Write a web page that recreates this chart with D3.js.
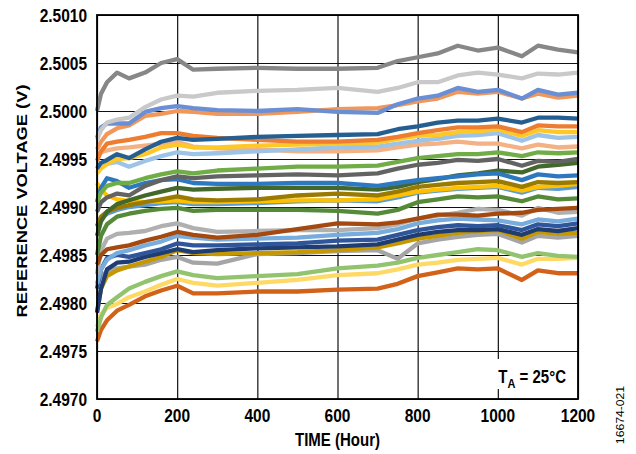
<!DOCTYPE html>
<html>
<head>
<meta charset="utf-8">
<script src="https://cdn.jsdelivr.net/npm/d3@7/dist/d3.min.js"></script>
<style>
  body { margin: 0; background: #fff; }
  text { font-family: "Liberation Sans", Arial, sans-serif; }
</style>
</head>
<body>
<svg id="chart" width="636" height="454"></svg>
<script>
// sample times (hours) shared by every device trace
var hours = [0, 10, 25, 50, 80, 120, 160, 200, 240, 300, 400, 500, 600, 700, 750, 800, 850, 900, 950, 1000, 1060, 1100, 1150, 1200];

// reference voltage per device (V)
var grayTop    = [2.50000, 2.50018, 2.50030, 2.50040, 2.50034, 2.50040, 2.50050, 2.50054, 2.50043, 2.50044, 2.50045, 2.50044, 2.50044, 2.50045, 2.50052, 2.50056, 2.50060, 2.50068, 2.50063, 2.50066, 2.50057, 2.50068, 2.50064, 2.50061];
var lightGray  = [2.49970, 2.49980, 2.49988, 2.49991, 2.49993, 2.50004, 2.50012, 2.50016, 2.50015, 2.50019, 2.50021, 2.50022, 2.50024, 2.50020, 2.50024, 2.50030, 2.50030, 2.50037, 2.50040, 2.50038, 2.50034, 2.50039, 2.50038, 2.50040];
var lightOrange= [2.49960, 2.49968, 2.49976, 2.49982, 2.49985, 2.49995, 2.49997, 2.50000, 2.49999, 2.49997, 2.49997, 2.49999, 2.50002, 2.50003, 2.50006, 2.50010, 2.50013, 2.50020, 2.50018, 2.50020, 2.50013, 2.50018, 2.50014, 2.50016];
var cornflower = [2.49972, 2.49983, 2.49987, 2.49987, 2.49987, 2.49999, 2.50003, 2.50005, 2.50003, 2.50001, 2.50000, 2.50002, 2.49999, 2.49998, 2.50007, 2.50013, 2.50016, 2.50024, 2.50020, 2.50022, 2.50013, 2.50022, 2.50017, 2.50019];
var orange     = [2.49948, 2.49958, 2.49966, 2.49968, 2.49970, 2.49973, 2.49977, 2.49977, 2.49974, 2.49972, 2.49970, 2.49968, 2.49968, 2.49970, 2.49973, 2.49977, 2.49980, 2.49983, 2.49983, 2.49984, 2.49978, 2.49985, 2.49984, 2.49984];
var darkBlue   = [2.49940, 2.49946, 2.49949, 2.49955, 2.49951, 2.49960, 2.49968, 2.49972, 2.49970, 2.49971, 2.49973, 2.49974, 2.49975, 2.49976, 2.49981, 2.49984, 2.49988, 2.49990, 2.49990, 2.49992, 2.49988, 2.49993, 2.49993, 2.49992];
var gold       = [2.49935, 2.49940, 2.49945, 2.49950, 2.49951, 2.49955, 2.49962, 2.49965, 2.49962, 2.49962, 2.49964, 2.49965, 2.49966, 2.49967, 2.49971, 2.49974, 2.49975, 2.49978, 2.49979, 2.49981, 2.49974, 2.49980, 2.49978, 2.49978];
var paleBlue   = [2.49938, 2.49942, 2.49945, 2.49947, 2.49942, 2.49948, 2.49953, 2.49957, 2.49955, 2.49956, 2.49958, 2.49960, 2.49962, 2.49963, 2.49966, 2.49969, 2.49971, 2.49974, 2.49975, 2.49977, 2.49969, 2.49975, 2.49972, 2.49973];
var peach      = [2.49955, 2.49957, 2.49959, 2.49961, 2.49962, 2.49964, 2.49966, 2.49968, 2.49963, 2.49961, 2.49960, 2.49958, 2.49958, 2.49959, 2.49962, 2.49965, 2.49966, 2.49968, 2.49966, 2.49966, 2.49961, 2.49965, 2.49962, 2.49963];
var green      = [2.49905, 2.49915, 2.49922, 2.49925, 2.49925, 2.49930, 2.49934, 2.49937, 2.49935, 2.49938, 2.49940, 2.49942, 2.49942, 2.49943, 2.49947, 2.49951, 2.49953, 2.49955, 2.49955, 2.49957, 2.49953, 2.49957, 2.49956, 2.49957];
var darkGray   = [2.49895, 2.49905, 2.49910, 2.49914, 2.49912, 2.49922, 2.49928, 2.49932, 2.49930, 2.49932, 2.49933, 2.49934, 2.49933, 2.49935, 2.49940, 2.49944, 2.49946, 2.49949, 2.49948, 2.49950, 2.49943, 2.49948, 2.49947, 2.49950];
var blue       = [2.49905, 2.49920, 2.49930, 2.49927, 2.49920, 2.49925, 2.49928, 2.49929, 2.49925, 2.49924, 2.49924, 2.49925, 2.49925, 2.49922, 2.49925, 2.49928, 2.49930, 2.49932, 2.49934, 2.49935, 2.49928, 2.49934, 2.49932, 2.49933];
var darkGreen  = [2.49870, 2.49885, 2.49895, 2.49903, 2.49907, 2.49912, 2.49916, 2.49920, 2.49918, 2.49919, 2.49920, 2.49920, 2.49920, 2.49918, 2.49921, 2.49926, 2.49929, 2.49933, 2.49935, 2.49938, 2.49936, 2.49942, 2.49944, 2.49946];
var olive      = [2.49880, 2.49890, 2.49895, 2.49899, 2.49902, 2.49905, 2.49908, 2.49911, 2.49908, 2.49907, 2.49908, 2.49912, 2.49914, 2.49912, 2.49916, 2.49921, 2.49923, 2.49925, 2.49926, 2.49927, 2.49921, 2.49926, 2.49925, 2.49926];
var gold2      = [2.49925, 2.49918, 2.49912, 2.49908, 2.49906, 2.49905, 2.49906, 2.49907, 2.49905, 2.49905, 2.49906, 2.49907, 2.49907, 2.49908, 2.49912, 2.49916, 2.49918, 2.49920, 2.49921, 2.49922, 2.49917, 2.49921, 2.49922, 2.49924];
var skyBlue    = [2.49880, 2.49888, 2.49893, 2.49897, 2.49900, 2.49902, 2.49904, 2.49905, 2.49903, 2.49903, 2.49904, 2.49906, 2.49907, 2.49906, 2.49910, 2.49915, 2.49917, 2.49919, 2.49920, 2.49921, 2.49915, 2.49920, 2.49919, 2.49921];
var leafGreen  = [2.49850, 2.49870, 2.49882, 2.49890, 2.49893, 2.49896, 2.49898, 2.49899, 2.49896, 2.49897, 2.49897, 2.49897, 2.49896, 2.49893, 2.49897, 2.49905, 2.49908, 2.49911, 2.49910, 2.49911, 2.49906, 2.49911, 2.49908, 2.49909];
var brown      = [2.49840, 2.49850, 2.49856, 2.49858, 2.49860, 2.49865, 2.49869, 2.49874, 2.49871, 2.49868, 2.49871, 2.49877, 2.49883, 2.49882, 2.49884, 2.49888, 2.49892, 2.49892, 2.49891, 2.49893, 2.49894, 2.49897, 2.49898, 2.49899];
var midGray    = [2.49830, 2.49855, 2.49867, 2.49872, 2.49873, 2.49875, 2.49880, 2.49883, 2.49878, 2.49874, 2.49875, 2.49876, 2.49876, 2.49878, 2.49882, 2.49888, 2.49891, 2.49894, 2.49898, 2.49897, 2.49891, 2.49899, 2.49894, 2.49895];
var steelBlue  = [2.49820, 2.49835, 2.49845, 2.49852, 2.49855, 2.49860, 2.49864, 2.49870, 2.49868, 2.49866, 2.49867, 2.49868, 2.49871, 2.49873, 2.49877, 2.49883, 2.49886, 2.49888, 2.49887, 2.49886, 2.49882, 2.49887, 2.49885, 2.49888];
var royalBlue  = [2.49815, 2.49835, 2.49847, 2.49850, 2.49848, 2.49852, 2.49856, 2.49862, 2.49860, 2.49860, 2.49861, 2.49862, 2.49865, 2.49866, 2.49871, 2.49876, 2.49879, 2.49881, 2.49880, 2.49881, 2.49876, 2.49882, 2.49880, 2.49883];
var navy       = [2.49790, 2.49815, 2.49835, 2.49842, 2.49843, 2.49848, 2.49852, 2.49856, 2.49853, 2.49855, 2.49857, 2.49858, 2.49859, 2.49861, 2.49866, 2.49871, 2.49874, 2.49876, 2.49876, 2.49877, 2.49871, 2.49877, 2.49875, 2.49878];
var grayLow    = [2.49820, 2.49828, 2.49833, 2.49836, 2.49838, 2.49840, 2.49845, 2.49848, 2.49842, 2.49841, 2.49851, 2.49852, 2.49854, 2.49855, 2.49846, 2.49862, 2.49866, 2.49869, 2.49871, 2.49872, 2.49863, 2.49870, 2.49868, 2.49870];
var darkGold   = [2.49790, 2.49815, 2.49828, 2.49834, 2.49838, 2.49843, 2.49848, 2.49855, 2.49852, 2.49851, 2.49852, 2.49853, 2.49855, 2.49858, 2.49862, 2.49867, 2.49870, 2.49873, 2.49875, 2.49876, 2.49867, 2.49874, 2.49872, 2.49873];
var paleGreen  = [2.49770, 2.49785, 2.49798, 2.49806, 2.49815, 2.49822, 2.49828, 2.49833, 2.49829, 2.49826, 2.49828, 2.49830, 2.49836, 2.49839, 2.49842, 2.49847, 2.49850, 2.49853, 2.49856, 2.49855, 2.49848, 2.49852, 2.49849, 2.49848];
var paleYellow = [2.49775, 2.49788, 2.49795, 2.49799, 2.49806, 2.49812, 2.49819, 2.49825, 2.49821, 2.49818, 2.49821, 2.49824, 2.49829, 2.49831, 2.49835, 2.49840, 2.49842, 2.49845, 2.49846, 2.49847, 2.49840, 2.49846, 2.49846, 2.49847];
var rust       = [2.49760, 2.49772, 2.49782, 2.49792, 2.49798, 2.49807, 2.49813, 2.49818, 2.49810, 2.49810, 2.49812, 2.49812, 2.49814, 2.49815, 2.49820, 2.49828, 2.49832, 2.49836, 2.49835, 2.49836, 2.49824, 2.49834, 2.49831, 2.49831];

var xTicks = [0, 200, 400, 600, 800, 1000, 1200];
var yTicks = [2.4970, 2.4975, 2.4980, 2.4985, 2.4990, 2.4995, 2.5000, 2.5005, 2.5010];

// draw order (first = underneath)
var traces = [
    [grayLow, "#a5a5a5"], [rust, "#d2611a"], [paleYellow, "#ffd966"], [paleGreen, "#92c46f"],
    [darkGold, "#c59800"], [navy, "#203d73"], [royalBlue, "#2f559a"], [steelBlue, "#78acdc"],
    [midGray, "#b0b0b0"], [brown, "#a44a10"], [leafGreen, "#548a38"], [skyBlue, "#5b9bd5"],
    [gold2, "#ffc000"], [olive, "#9a7a00"], [darkGreen, "#43682b"], [blue, "#2e78c0"],
    [darkGray, "#636363"], [green, "#70ad47"], [peach, "#f4b183"], [paleBlue, "#9dc3e6"],
    [gold, "#ffc829"], [orange, "#ed7d31"], [darkBlue, "#255e91"], [lightOrange, "#f1975a"],
    [cornflower, "#6a8fd4"], [lightGray, "#c9c9c9"], [grayTop, "#878787"]
];

var margin = {top: 15, right: 58, bottom: 55, left: 97},
    width = 636 - margin.left - margin.right,
    height = 454 - margin.top - margin.bottom;

// the source figure's lettering is drawn tall and narrow
var stretch = 1.22;

var svg = d3.select("#chart");
var g = svg.append("g")
    .attr("transform", "translate(" + margin.left + "," + margin.top + ")");

var x = d3.scaleLinear().domain([0, 1200]).range([0, width]);
var y = d3.scaleLinear().domain([2.4970, 2.5010]).range([height, 0]);

// gridlines
g.append("g")
    .call(d3.axisLeft(y).tickValues(yTicks).tickSize(-width).tickFormat(""))
    .call(function(s) { s.select(".domain").remove(); })
    .selectAll("line").attr("stroke", "#111").attr("stroke-width", 1.2);
g.append("g")
    .attr("transform", "translate(0," + height + ")")
    .call(d3.axisBottom(x).tickValues(xTicks).tickSize(-height).tickFormat(""))
    .call(function(s) { s.select(".domain").remove(); })
    .selectAll("line").attr("stroke", "#111").attr("stroke-width", 1.2);

// traces
var line = d3.line()
    .x(function(d, i) { return x(hours[i]); })
    .y(function(d) { return y(d); });

g.selectAll(".trace")
    .data(traces)
    .enter().append("path")
    .attr("class", "trace")
    .attr("d", function(d) { return line(d[0]); })
    .style("fill", "none")
    .style("stroke", function(d) { return d[1]; })
    .style("stroke-width", 4.3)
    .style("stroke-linejoin", "round");

// frame
g.append("rect")
    .attr("width", width).attr("height", height)
    .style("fill", "none").style("stroke", "#000").style("stroke-width", 1.8);

// tick labels
var fmtY = d3.format(".4f");
g.selectAll(".ylab")
    .data(yTicks)
    .enter().append("text")
    .attr("class", "ylab")
    .attr("transform", function(d) { return "translate(-10," + y(d) + ") scale(1," + stretch + ")"; })
    .attr("dy", "0.35em")
    .attr("text-anchor", "end")
    .style("font-size", "15.5px").style("font-weight", "bold")
    .text(function(d) { return fmtY(d); });

g.selectAll(".xlab")
    .data(xTicks)
    .enter().append("text")
    .attr("class", "xlab")
    .attr("transform", function(d) { return "translate(" + x(d) + "," + (height + 16) + ") scale(1," + stretch + ")"; })
    .attr("dy", "0.35em")
    .attr("text-anchor", "middle")
    .style("font-size", "15.5px").style("font-weight", "bold")
    .text(function(d) { return d; });

// axis titles
svg.append("text")
    .attr("transform", "translate(" + (margin.left + width / 2) + ",440) scale(1," + stretch + ")")
    .attr("dy", "0.35em")
    .attr("text-anchor", "middle")
    .style("font-size", "15px").style("font-weight", "bold")
    .text("TIME (Hour)");

svg.append("text")
    .attr("transform", "translate(22," + (margin.top + height / 2 - 6) + ") rotate(-90) scale(" + stretch + ",1)")
    .attr("dy", "0.35em")
    .attr("text-anchor", "middle")
    .style("font-size", "15px").style("font-weight", "bold")
    .text("REFERENCE VOLTAGE (V)");

// condition note with white backing
var note = g.append("g").attr("transform", "translate(" + (x(1200) - 12) + "," + (y(2.49725) + 2) + ")");
note.append("rect")
    .attr("x", -74).attr("y", -18).attr("width", 70).attr("height", 30)
    .style("fill", "#fff");
var noteText = note.append("text")
    .attr("transform", "scale(1," + stretch + ")")
    .attr("dy", "0.35em")
    .attr("text-anchor", "end")
    .style("font-size", "15px").style("font-weight", "bold");
noteText.append("tspan").text("T");
noteText.append("tspan").attr("dy", 4).style("font-size", "11px").text("A");
noteText.append("tspan").attr("dy", -4).text(" = 25°C");

// figure id
svg.append("text")
    .attr("transform", "translate(620,415) rotate(-90) scale(" + stretch + ",1)")
    .attr("dy", "0.35em")
    .attr("text-anchor", "middle")
    .style("font-size", "10px")
    .text("16674-021");
</script>
</body>
</html>
